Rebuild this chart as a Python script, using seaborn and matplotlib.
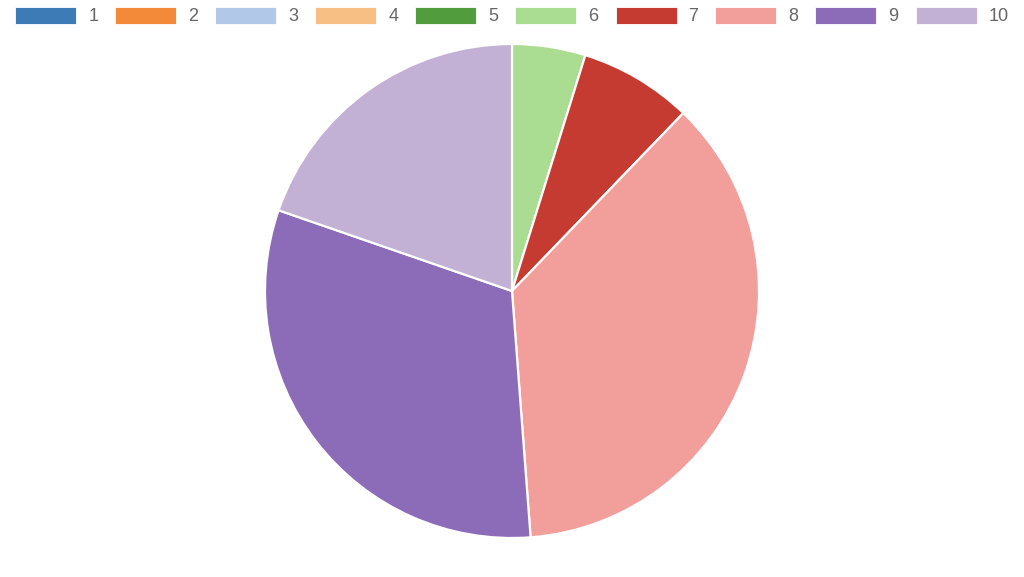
import matplotlib
matplotlib.use("Agg")
import matplotlib.pyplot as plt
import seaborn as sns

sns.set_theme(style="white")
plt.rcParams['font.family'] = ['Liberation Sans', 'DejaVu Sans']

categories = ["1", "2", "3", "4", "5", "6", "7", "8", "9", "10"]
values = [0, 0, 0, 0, 0, 4.8, 7.4, 36.6, 31.5, 19.7]
colors = ["#3c7bb5", "#f28a3a", "#b2c8e8", "#f8bf85", "#519d3e",
          "#aadd92", "#c53b32", "#f29e9a", "#8c6bb8", "#c2b1d4"]
palette = sns.color_palette(colors)

fig = plt.figure(figsize=(10.24, 5.77), dpi=100)
W, H = 1024, 577
cx, cy, r = 512, 291, 247
ax = fig.add_axes([(cx - r) / W, (H - cy - r) / H, 2 * r / W, 2 * r / H])
wedges, _ = ax.pie(values, colors=palette, startangle=90, counterclock=False,
                   radius=1, wedgeprops=dict(edgecolor="white", linewidth=1.6))
ax.set_xlim(-1.0, 1.0)
ax.set_ylim(-1.0, 1.0)
ax.set_aspect("equal")
ax.axis("off")

fs = 13
px = fs * 100 / 72
hh = (17 / px - 0.245) / 0.65
leg = fig.legend(wedges, categories, loc="upper center", bbox_to_anchor=(0.5, 1.0 + 6 / H),
                 ncol=10, frameon=False, fontsize=fs,
                 handlelength=61 / px, handleheight=hh,
                 handletextpad=12 / px, columnspacing=17 / px, borderaxespad=0.3)
for t in leg.get_texts():
    t.set_color("#666666")
for h in leg.legend_handles:
    h.set_edgecolor("white")
    h.set_linewidth(0.6)

fig.savefig("out.png", dpi=100)
